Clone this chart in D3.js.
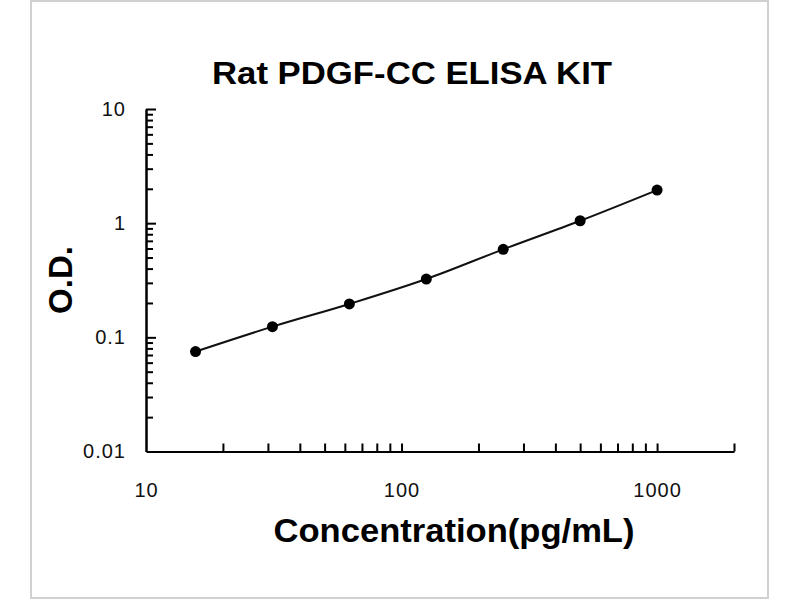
<!DOCTYPE html>
<html lang="en">
<head>
    <meta charset="UTF-8">
    <title>Rat PDGF-CC ELISA KIT</title>
    <script src="https://d3js.org/d3.v7.min.js"></script>
    <style>
        body {
            margin: 0;
            background: #fff;
        }
        svg text {
            font-family: "Liberation Sans", Arial, sans-serif;
        }
        .axis path, .axis line {
            stroke: #000;
            stroke-width: 2;
        }
        .label-axis text {
            font-size: 20px;
            fill: #111;
            letter-spacing: 1px;
        }
    </style>
</head>
<body>
    <svg id="chart" width="800" height="600"></svg>

    <script>
        // Standard curve data
        const concentrations = [15.625, 31.25, 62.5, 125, 250, 500, 1000];
        const odValues = [0.075, 0.124, 0.196, 0.324, 0.59, 1.05, 1.95];

        // Tick values
        const xMinorTicks = [20, 30, 40, 50, 60, 70, 80, 90, 100, 200, 300, 400, 500, 600, 700, 800, 900, 1000, 2000];
        const xLabelTicks = [10, 100, 1000];
        const yMajorTicks = [0.1, 1, 10];
        const yMinorTicks = [0.02, 0.03, 0.04, 0.05, 0.06, 0.07, 0.08, 0.09,
                             0.2, 0.3, 0.4, 0.5, 0.6, 0.7, 0.8, 0.9,
                             2, 3, 4, 5, 6, 7, 8, 9];
        const yLabelTicks = [0.01, 0.1, 1, 10];

        const svg = d3.select("#chart");

        // outer frame
        svg.append("rect")
            .attr("x", 31)
            .attr("y", 1)
            .attr("width", 737)
            .attr("height", 597)
            .attr("fill", "none")
            .attr("stroke", "#d0d0d0")
            .attr("stroke-width", 2);

        // Scales
        const x = d3.scaleLog().domain([10, 2000]).range([146, 734]);
        const y = d3.scaleLog().domain([0.01, 10]).range([451.5, 109]);

        // X axis: ticks pointing up
        svg.append("g")
            .attr("class", "axis")
            .attr("transform", `translate(0,${y(0.01)})`)
            .call(d3.axisBottom(x).tickValues(xMinorTicks).tickSize(-8).tickSizeOuter(0).tickFormat(""));

        svg.append("g")
            .attr("class", "label-axis")
            .attr("transform", `translate(0,${y(0.01)})`)
            .call(d3.axisBottom(x).tickValues(xLabelTicks).tickSize(0).tickPadding(31).tickFormat(d3.format("d")))
            .call(g => g.select(".domain").remove());

        // Y axis: major and minor ticks pointing right
        svg.append("g")
            .attr("class", "axis")
            .attr("transform", `translate(${x(10)},0)`)
            .call(d3.axisLeft(y).tickValues(yMinorTicks).tickSize(-7).tickSizeOuter(0).tickFormat(""));

        svg.append("g")
            .attr("class", "axis")
            .attr("transform", `translate(${x(10)},0)`)
            .call(d3.axisLeft(y).tickValues(yMajorTicks).tickSize(-10).tickSizeOuter(0).tickFormat(""));

        svg.append("g")
            .attr("class", "label-axis")
            .attr("transform", `translate(${x(10)},0)`)
            .call(d3.axisLeft(y).tickValues(yLabelTicks).tickSize(0).tickPadding(20).tickFormat(d => d >= 1 ? d3.format("d")(d) : String(d)))
            .call(g => g.select(".domain").remove());

        // Fitted curve
        const points = concentrations.map((c, i) => ({ c, od: odValues[i] }));

        const line = d3.line()
            .x(d => x(d.c))
            .y(d => y(d.od))
            .curve(d3.curveMonotoneX);

        svg.append("path")
            .datum(points)
            .attr("fill", "none")
            .attr("stroke", "#111")
            .attr("stroke-width", 2)
            .attr("d", line);

        svg.selectAll(".dot")
            .data(points)
            .join("circle")
            .attr("class", "dot")
            .attr("cx", d => x(d.c))
            .attr("cy", d => y(d.od))
            .attr("r", 5.5)
            .attr("fill", "#000");

        // Titles
        svg.append("text")
            .attr("x", 412)
            .attr("y", 84)
            .attr("text-anchor", "middle")
            .attr("font-size", 32)
            .attr("font-weight", "bold")
            .attr("textLength", 400)
            .attr("lengthAdjust", "spacingAndGlyphs")
            .text("Rat PDGF-CC ELISA KIT");

        svg.append("text")
            .attr("x", 454)
            .attr("y", 542)
            .attr("text-anchor", "middle")
            .attr("font-size", 33)
            .attr("font-weight", "bold")
            .attr("textLength", 361)
            .attr("lengthAdjust", "spacingAndGlyphs")
            .text("Concentration(pg/mL)");

        svg.append("text")
            .attr("transform", "translate(72,280) rotate(-90)")
            .attr("text-anchor", "middle")
            .attr("font-size", 33)
            .attr("font-weight", "bold")
            .text("O.D.");
    </script>
</body>
</html>
